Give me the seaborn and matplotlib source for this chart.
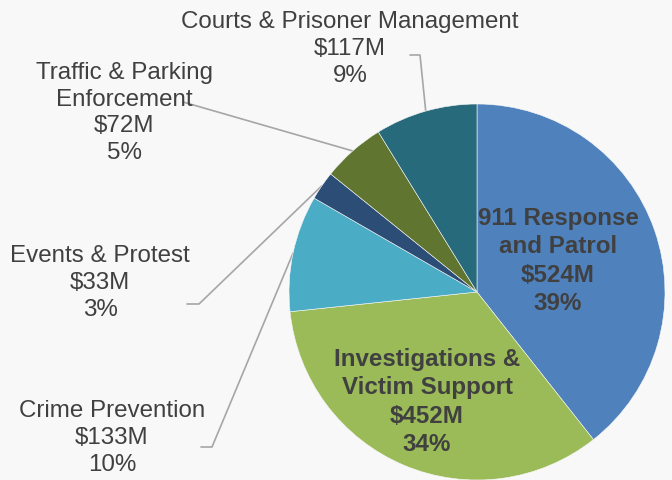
import numpy as np
import matplotlib
matplotlib.use('Agg')
import matplotlib.pyplot as plt
import seaborn as sns

# Budget by program (clockwise from 12 o'clock)
programs = ['911 Response\nand Patrol', 'Investigations &\nVictim Support', 'Crime Prevention',
            'Events & Protest', 'Traffic & Parking\nEnforcement', 'Courts & Prisoner Management']
budget_m = [524, 452, 133, 33, 72, 117]
share_pct = [39, 34, 10, 3, 5, 9]
colors = ['#4F81BD', '#9BBB59', '#4BACC6', '#2C4D75', '#5F7530', '#276A7C']

sns.set_theme(style='white')
plt.rcParams['font.family'] = ['Liberation Sans', 'DejaVu Sans']

W, H = 672, 481
bg = '#F8F8F8'
txt = '#404040'
line_c = '#A6A6A6'

fig = plt.figure(figsize=(W / 100, H / 100), dpi=100, facecolor=bg)
ax = fig.add_axes([0, 0, 1, 1])
ax.set_facecolor(bg)

cx, cy, r = 477, H - 293, 188
wedges, _ = ax.pie(budget_m, colors=colors, startangle=90, counterclock=False,
                   radius=r, center=(cx, cy),
                   wedgeprops=dict(edgecolor=bg, linewidth=0.4))
ax.set_xlim(0, W)
ax.set_ylim(0, H)
ax.set_aspect('equal')
ax.axis('off')

labels = [f'{p}\n${v}M\n{s}%' for p, v, s in zip(programs, budget_m, share_pct)]

# label centres (pixels from top-left), bold flag, leader start points
label_pos = [(558, 261), (427, 402), (112, 438), (100, 283), (124, 113), (350, 49)]
bold = [True, True, False, False, False, False]
leaders = {2: [(201, 448), (212, 448)], 3: [(187, 305), (199, 305)],
           4: [(183, 103)], 5: [(410, 56), (420, 56)]}

for i, (lab, (x, y)) in enumerate(zip(labels, label_pos)):
    ax.text(x, H - y, lab, ha='center', va='center', fontsize=17.4,
            color=txt, fontweight='bold' if bold[i] else 'normal', linespacing=1.28)

for i, pts in leaders.items():
    w = wedges[i]
    mid = np.deg2rad((w.theta1 + w.theta2) / 2)
    ex, ey = cx + r * np.cos(mid), cy + r * np.sin(mid)
    xs = [p[0] for p in pts] + [ex]
    ys = [H - p[1] for p in pts] + [ey]
    ax.plot(xs, ys, color=line_c, lw=1.2, zorder=0.5)

fig.savefig('out.png', dpi=100, facecolor=bg)
